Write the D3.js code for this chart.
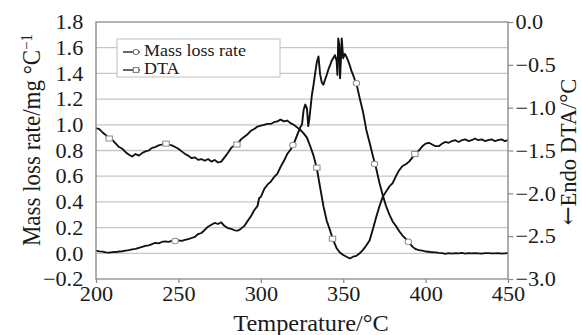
<!DOCTYPE html>
<html>
<head>
<meta charset="utf-8">
<script src="https://cdn.jsdelivr.net/npm/d3@7"></script>
<style>
  body { margin: 0; background: #fff; }
  svg { display: block; }
  text { font-family: "Liberation Serif", "Times New Roman", serif; fill: #1a1a1a; }
</style>
</head>
<body>
<script>
/*------- données -------*/
const massT = [200, 202, 204, 206, 208, 210, 212, 214, 216, 218, 220, 222, 224, 226, 228, 230, 232, 234, 236, 238,
  240, 242, 244, 246, 248, 250, 252, 254, 256, 258, 260, 262, 264, 266, 268, 270, 272, 274, 276, 278,
  280, 282, 284, 286, 288, 290, 292, 294, 296, 298, 299, 300, 302, 304, 306, 308, 310, 312, 314, 316,
  318, 320, 322, 324, 325, 326, 327, 328, 328.8, 329.5, 331, 332, 333, 334, 335, 336, 337, 338, 339, 340,
  341, 342, 343, 344, 345, 346, 346.5, 347, 347.6, 348.1, 348.6, 349.1, 350, 351, 352, 353, 354, 355, 356, 357,
  358, 360, 362, 364, 366, 368, 370, 372, 374, 376, 378, 380, 382, 384, 386, 388, 390, 392, 394, 396,
  398, 400, 402, 404, 406, 408, 410, 412, 414, 416, 418, 420, 422, 424, 426, 428, 430, 432, 434, 436,
  438, 440, 442, 444, 446, 448, 450];
const massRate = [0.020, 0.015, 0.013, 0.008, 0.005, 0.009, 0.010, 0.014, 0.016, 0.021, 0.025, 0.031, 0.035, 0.043, 0.050, 0.057, 0.062, 0.072, 0.082, 0.077,
  0.088, 0.093, 0.089, 0.097, 0.095, 0.101, 0.097, 0.105, 0.110, 0.119, 0.128, 0.150, 0.158, 0.182, 0.207, 0.222, 0.236, 0.228, 0.241, 0.212,
  0.196, 0.191, 0.179, 0.176, 0.192, 0.213, 0.252, 0.288, 0.335, 0.368, 0.430, 0.438, 0.498, 0.534, 0.556, 0.592, 0.618, 0.672, 0.718, 0.772,
  0.806, 0.852, 0.918, 0.982, 1.002, 1.118, 1.158, 1.128, 0.990, 1.050, 1.232, 1.310, 1.402, 1.488, 1.532, 1.392, 1.330, 1.312, 1.352, 1.388,
  1.430, 1.462, 1.498, 1.520, 1.542, 1.498, 1.388, 1.672, 1.620, 1.362, 1.500, 1.672, 1.518, 1.552, 1.530, 1.498, 1.462, 1.420, 1.388, 1.352,
  1.322, 1.208, 1.102, 0.962, 0.862, 0.758, 0.662, 0.548, 0.452, 0.368, 0.302, 0.248, 0.212, 0.172, 0.138, 0.112, 0.082, 0.052, 0.032, 0.024,
  0.021, 0.014, 0.012, 0.008, 0.007, 0.003, 0.001, -0.004, 0.002, -0.002, 0.001, 0.000, 0.003, -0.002, 0.001, -0.001, 0.002, 0.000, -0.003, 0.001,
  0.002, -0.001, 0.000, 0.002, -0.002, 0.000, 0.001];

const dtaT = [200, 202, 204, 206, 208, 210, 212, 214, 216, 218, 220, 222, 224, 226, 228, 230, 232, 234, 236, 238,
  240, 242, 244, 246, 248, 250, 252, 254, 256, 258, 260, 262, 264, 266, 268, 270, 272, 274, 276, 278,
  280, 282, 284, 286, 288, 290, 292, 294, 296, 298, 300, 302, 304, 306, 308, 310, 312, 314, 316, 318,
  320, 322, 324, 326, 328, 330, 332, 334, 336, 338, 340, 342, 344, 346, 348, 350, 352, 354, 356, 358,
  360, 362, 364, 366, 368, 370, 372, 374, 376, 378, 380, 382, 384, 386, 388, 390, 392, 394, 396, 398,
  400, 402, 404, 406, 408, 410, 412, 414, 416, 418, 420, 422, 424, 426, 428, 430, 432, 434, 436, 438,
  440, 442, 444, 446, 448, 450];
const dtaVal = [-1.24, -1.25, -1.29, -1.32, -1.36, -1.38, -1.42, -1.46, -1.48, -1.52, -1.55, -1.57, -1.54, -1.56, -1.53, -1.51, -1.50, -1.47, -1.46, -1.44,
  -1.43, -1.41, -1.43, -1.44, -1.46, -1.48, -1.51, -1.54, -1.56, -1.59, -1.58, -1.61, -1.60, -1.62, -1.60, -1.63, -1.61, -1.64, -1.63, -1.58,
  -1.53, -1.47, -1.44, -1.42, -1.37, -1.34, -1.31, -1.27, -1.25, -1.22, -1.21, -1.20, -1.19, -1.19, -1.17, -1.16, -1.14, -1.16, -1.15, -1.18,
  -1.20, -1.23, -1.26, -1.30, -1.35, -1.45, -1.56, -1.71, -1.93, -2.15, -2.32, -2.43, -2.55, -2.64, -2.69, -2.72, -2.74, -2.76, -2.74, -2.73,
  -2.70, -2.66, -2.61, -2.55, -2.42, -2.28, -2.15, -2.04, -1.98, -1.92, -1.88, -1.80, -1.73, -1.68, -1.66, -1.63, -1.58, -1.53, -1.50, -1.45,
  -1.42, -1.41, -1.43, -1.45, -1.45, -1.42, -1.40, -1.41, -1.39, -1.38, -1.40, -1.38, -1.37, -1.39, -1.38, -1.36, -1.38, -1.37, -1.39, -1.38,
  -1.37, -1.39, -1.38, -1.37, -1.39, -1.38];

// positions des marqueurs (cercles / carrés)
const massMarkT = [248, 319.5, 358, 369, 389.5];
const massMarkV = [0.096, 0.843, 1.323, 0.695, 0.090];
const dtaMarkT = [208, 242.5, 285.5, 334, 343.5, 393.5];
const dtaMarkV = [-1.36, -1.42, -1.43, -1.70, -2.53, -1.54];

const xTicks = [200, 250, 300, 350, 400, 450];
const leftTicks = [-0.2, 0.0, 0.2, 0.4, 0.6, 0.8, 1.0, 1.2, 1.4, 1.6, 1.8];
const rightTicks = [0.0, -0.5, -1.0, -1.5, -2.0, -2.5, -3.0];

/*------- mise en page -------*/
var W = 582, H = 335;
var k = 1.06;              // l'original est légèrement étiré en largeur
var vw = W / k;
var mLeft = 96 / k, mRight = 508 / k, mTop = 22, mBottom = 279;

var svg = d3.select("body").append("svg")
  .attr("width", W).attr("height", H)
  .attr("viewBox", "0 0 " + vw + " " + H)
  .attr("preserveAspectRatio", "none");

var x = d3.scaleLinear().domain([200, 450]).range([mLeft, mRight]);
var yL = d3.scaleLinear().domain([-0.2, 1.8]).range([mBottom, mTop]);
var yR = d3.scaleLinear().domain([-3, 0]).range([mBottom, mTop]);

// grille
svg.append("g").selectAll("line")
  .data(leftTicks.slice(1, -1))
  .enter().append("line")
  .attr("x1", mLeft).attr("x2", mRight)
  .attr("y1", d => yL(d)).attr("y2", d => yL(d))
  .attr("stroke", "#c6c6c6").attr("stroke-width", 1.3);

// courbes
var lineMass = d3.line().x(d => x(d[0])).y(d => yL(d[1]));
var lineDta = d3.line().x(d => x(d[0])).y(d => yR(d[1]));

svg.append("path")
  .datum(dtaT.map((t, i) => [t, dtaVal[i]]))
  .attr("d", lineDta)
  .attr("fill", "none").attr("stroke", "#111").attr("stroke-width", 1.8)
  .attr("stroke-linejoin", "round");

svg.append("path")
  .datum(massT.map((t, i) => [t, massRate[i]]))
  .attr("d", lineMass)
  .attr("fill", "none").attr("stroke", "#111").attr("stroke-width", 1.8)
  .attr("stroke-linejoin", "round");

// marqueurs
svg.append("g").selectAll("ellipse")
  .data(massMarkT)
  .enter().append("ellipse")
  .attr("cx", d => x(d)).attr("cy", (d, i) => yL(massMarkV[i]))
  .attr("rx", 3).attr("ry", 2.8)
  .attr("fill", "#fff").attr("stroke", "#8c8c8c").attr("stroke-width", 1);

svg.append("g").selectAll("rect")
  .data(dtaMarkT)
  .enter().append("rect")
  .attr("x", d => x(d) - 3).attr("y", (d, i) => yR(dtaMarkV[i]) - 2.5)
  .attr("width", 6).attr("height", 5)
  .attr("fill", "#fff").attr("stroke", "#8c8c8c").attr("stroke-width", 1);

// cadre
svg.append("rect")
  .attr("x", mLeft).attr("y", mTop)
  .attr("width", mRight - mLeft).attr("height", mBottom - mTop)
  .attr("fill", "none").attr("stroke", "#8a8a8a").attr("stroke-width", 1.3);

// axes
var fmt = d3.format(".1f");

var gx = svg.append("g")
  .attr("transform", "translate(0," + mBottom + ")")
  .call(d3.axisBottom(x).tickValues(xTicks).tickSize(4).tickPadding(3).tickFormat(d3.format("d")));

var gl = svg.append("g")
  .attr("transform", "translate(" + mLeft + ",0)")
  .call(d3.axisLeft(yL).tickValues(leftTicks).tickSize(0).tickPadding(12).tickFormat(fmt));

var gr = svg.append("g")
  .attr("transform", "translate(" + mRight + ",0)")
  .call(d3.axisRight(yR).tickValues(rightTicks).tickSize(5).tickPadding(2).tickFormat(fmt));

[gx, gl, gr].forEach(function (g) {
  g.select(".domain").remove();
  g.selectAll(".tick line").attr("stroke", "#8a8a8a").attr("stroke-width", 1.2);
  g.selectAll("text")
    .style("font-family", "'Liberation Serif', 'Times New Roman', serif")
    .style("font-size", "21px")
    .attr("fill", "#1a1a1a");
});

// titres des axes
svg.append("text")
  .attr("x", 311 / k).attr("y", 331)
  .attr("text-anchor", "middle")
  .style("font-size", "23px")
  .text("Temperature/°C");

var yt = svg.append("text")
  .attr("transform", "translate(" + (40 / k) + ",140) rotate(-90)")
  .attr("text-anchor", "middle")
  .style("font-size", "23px");
yt.append("tspan").text("Mass loss rate/mg °C");
yt.append("tspan").attr("baseline-shift", "super").style("font-size", "15px").text("−1");

var rt = svg.append("text")
  .attr("transform", "translate(" + (576 / k) + ",152) rotate(-90)")
  .attr("text-anchor", "middle")
  .style("font-size", "22.5px");
rt.append("tspan").style("font-family", "'DejaVu Serif', serif").attr("fill", "#1a1a1a").text("←");
rt.append("tspan").text("Endo DTA/°C");

// légende
var lg = svg.append("g");
lg.append("rect")
  .attr("x", 117 / k).attr("y", 39)
  .attr("width", (280 - 117) / k).attr("height", 38)
  .attr("fill", "#fff").attr("stroke", "#c0c0c0").attr("stroke-width", 1);

var legendItems = [
  { label: "Mass loss rate", y: 52, shape: "circle" },
  { label: "DTA", y: 70, shape: "square" }
];
legendItems.forEach(function (it) {
  lg.append("line")
    .attr("x1", 123 / k).attr("x2", 140 / k)
    .attr("y1", it.y).attr("y2", it.y)
    .attr("stroke", "#111").attr("stroke-width", 1.3);
  if (it.shape == "circle") {
    lg.append("ellipse")
      .attr("cx", 136 / k).attr("cy", it.y).attr("rx", 2.6).attr("ry", 2.4)
      .attr("fill", "#fff").attr("stroke", "#777");
  } else {
    lg.append("rect")
      .attr("x", 136 / k - 2.6).attr("y", it.y - 2.4).attr("width", 5.2).attr("height", 4.8)
      .attr("fill", "#fff").attr("stroke", "#777");
  }
  lg.append("text")
    .attr("x", 144 / k).attr("y", it.y + 4.5)
    .style("font-size", "17px")
    .text(it.label);
});
</script>
</body>
</html>
